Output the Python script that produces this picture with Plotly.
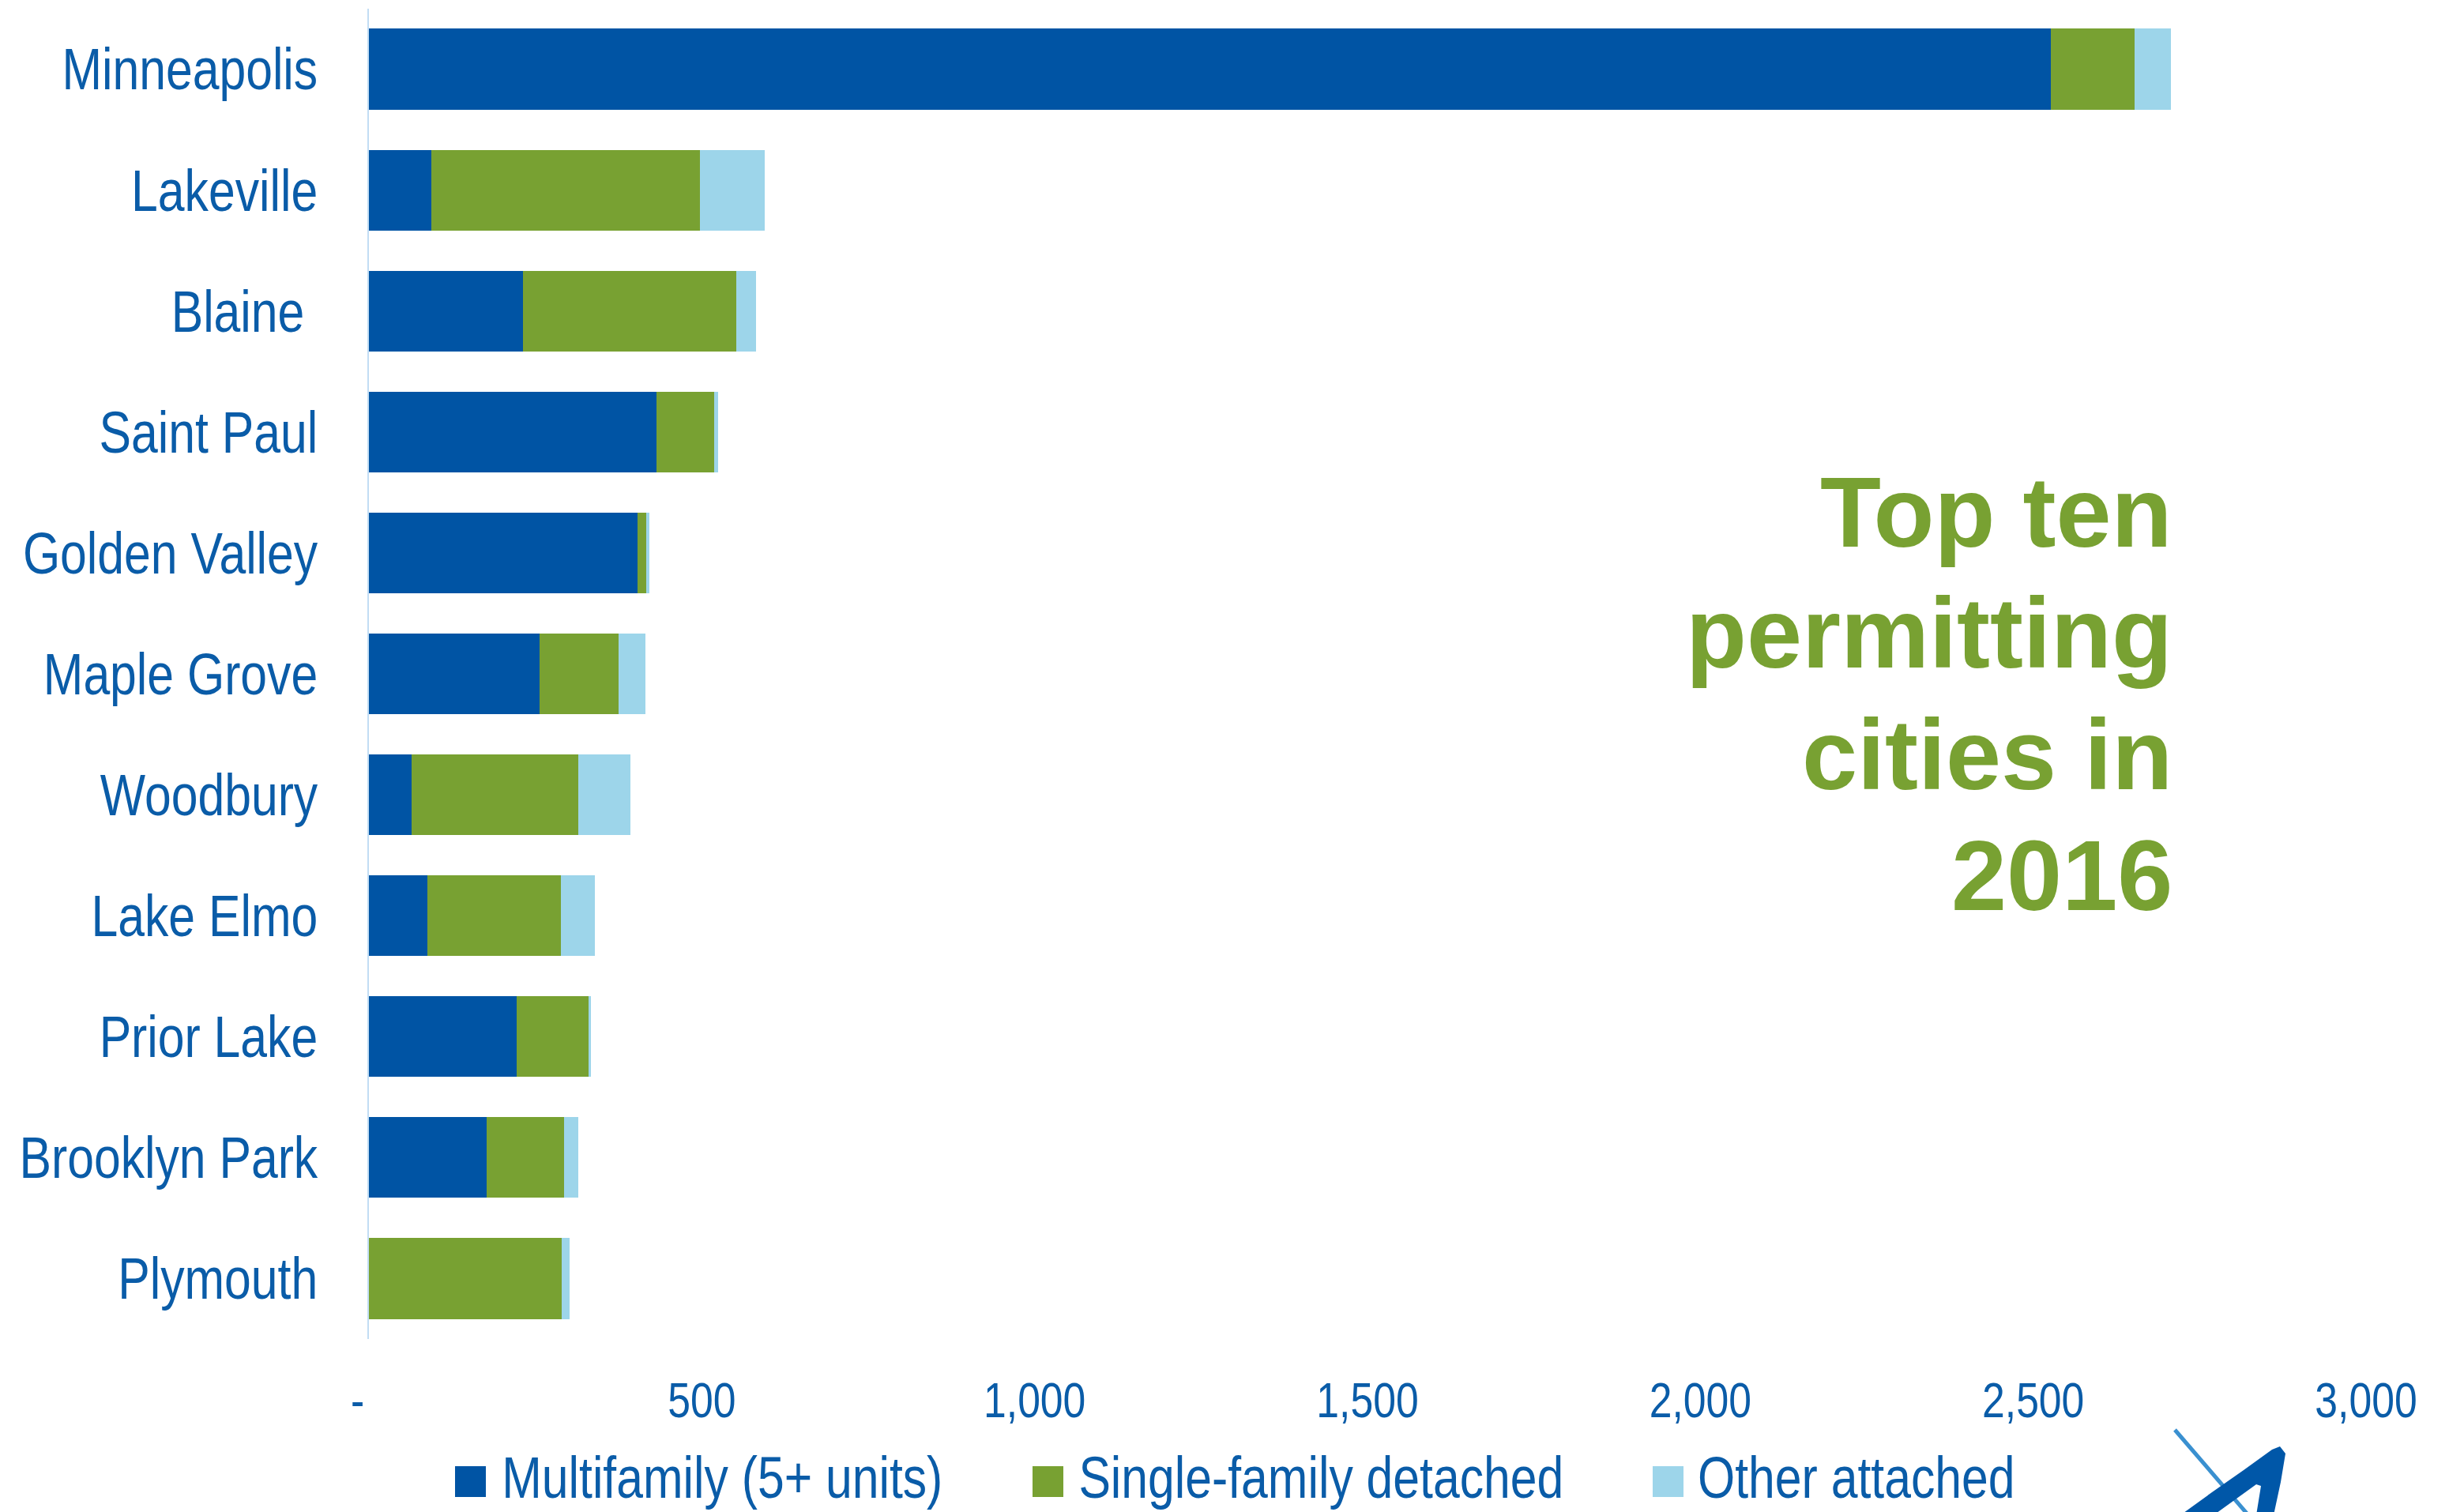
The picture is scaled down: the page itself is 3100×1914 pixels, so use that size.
import plotly.graph_objects as go

# ---------------- data ----------------
cities = ["Minneapolis", "Lakeville", "Blaine ", "Saint Paul", "Golden Valley", "Maple Grove",
          "Woodbury", "Lake Elmo", "Prior Lake", "Brooklyn Park", "Plymouth"]
multifamily = [2527, 94, 231, 432, 404, 256, 64, 88, 222, 177, 0]
single_family = [125, 403, 321, 87, 13, 119, 251, 200, 108, 116, 289]
other_attached = [55, 98, 29, 6, 4, 40, 78, 51, 4, 22, 12]

series_names = ["Multifamily (5+ units)", "Single-family detached", "Other attached"]
series_colors = ["#0054a4", "#78a132", "#9dd5ea"]

tick_vals = [0, 500, 1000, 1500, 2000, 2500, 3000]
tick_text = ["-\u00a0\u00a0", "500", "1,000", "1,500", "2,000", "2,500", "3,000"]

title_lines = ["Top ten", "permitting", "cities in", "2016"]

# ---------------- layout geometry ----------------
W, H = 3100, 1914
ML, MR, MT, MB = 467, 105, 11, 219
PW = W - ML - MR
PH = H - MT - MB

def px(x):
    return (x - ML) / PW

def py(y):
    return (H - MB - y) / PH

TEXT_BLUE = "#0a5ca8"
NARROW = "Liberation Sans Narrow, Liberation Sans, Arial, sans-serif"

fig = go.Figure()
for name, vals, col in zip(series_names, [multifamily, single_family, other_attached], series_colors):
    fig.add_trace(go.Bar(
        y=cities, x=vals, orientation="h", name=name,
        marker=dict(color=col, line=dict(width=0)),
        showlegend=False,
    ))

annotations = []
shapes = []

# title block (right aligned, bold green)
title_mid_y = [648, 801, 955, 1108]
for line, yy in zip(title_lines, title_mid_y):
    annotations.append(dict(
        text=line, xref="paper", yref="paper", x=px(2752), y=py(yy),
        xanchor="right", yanchor="middle", showarrow=False,
        font=dict(family="Liberation Sans, Arial, sans-serif", size=126,
                  color="#78a132", weight="bold"),
    ))

# custom legend
leg_sq_x = [576, 1307, 2092]
leg_txt_center = [914, 1672, 2350]
for name, col, sx, tx in zip(series_names, series_colors, leg_sq_x, leg_txt_center):
    shapes.append(dict(type="rect", xref="paper", yref="paper",
                       x0=px(sx), x1=px(sx + 39), y0=py(1895), y1=py(1856),
                       fillcolor=col, line=dict(width=0)))
    annotations.append(dict(
        text=name, xref="paper", yref="paper", x=px(tx), y=py(1871),
        xanchor="center", yanchor="middle", showarrow=False,
        font=dict(family=NARROW, size=74, color=TEXT_BLUE),
    ))

# logo (partially visible, bottom right)
shapes.append(dict(type="line", xref="paper", yref="paper",
                   x0=px(2753), y0=py(1810), x1=px(2846), y1=py(1918),
                   line=dict(color="#3a90d0", width=5)))
logo_pts = [(2760, 1918), (2800, 1889), (2840, 1861), (2876, 1835), (2886, 1831),
            (2893, 1840), (2887, 1876), (2878, 1918), (2856, 1918), (2862, 1881),
            (2856, 1879), (2802, 1918)]
path = "M " + " L ".join(f"{px(a):.5f},{py(b):.5f}" for a, b in logo_pts) + " Z"
shapes.append(dict(type="path", xref="paper", yref="paper", path=path,
                   fillcolor="#0057a8", line=dict(width=0)))

fig.update_layout(
    width=W, height=H,
    margin=dict(l=ML, r=MR, t=MT, b=MB, pad=0, autoexpand=False),
    paper_bgcolor="white", plot_bgcolor="white",
    barmode="stack", bargap=0.333,
    showlegend=False,
    annotations=annotations, shapes=shapes,
    xaxis=dict(range=[0, 3000], tickvals=tick_vals, ticktext=tick_text,
               showgrid=False, zeroline=False, showline=False, ticks="",
               ticklabelstandoff=35, automargin=False,
               tickfont=dict(family=NARROW, size=63, color=TEXT_BLUE)),
    yaxis=dict(autorange="reversed", showgrid=False, zeroline=False,
               showline=True, linecolor="#c2ddf4", linewidth=2, ticks="",
               ticklabelstandoff=48, automargin=False,
               tickfont=dict(family=NARROW, size=74, color=TEXT_BLUE)),
)

# page without default body margin + condensed rendering
# (Arial Narrow is ~82% the width of Arial)
post = """
document.body.style.margin = '0';
document.body.style.overflow = 'hidden';
var gd = document.getElementById('{plot_id}');
function squeeze(){
  gd.querySelectorAll('text').forEach(function(t){
    var ff = t.style.fontFamily || t.getAttribute('font-family') || '';
    if (ff.indexOf('Narrow') < 0) return;
    t.removeAttribute('textLength');
    t.removeAttribute('lengthAdjust');
    var L = t.getComputedTextLength();
    if (L > 0) {
      t.setAttribute('textLength', (L * 0.82).toFixed(2));
      t.setAttribute('lengthAdjust', 'spacingAndGlyphs');
    }
  });
}
squeeze();
gd.on('plotly_afterplot', squeeze);
"""

fig.write_html("out.html", post_script=post, config={"displayModeBar": False})
